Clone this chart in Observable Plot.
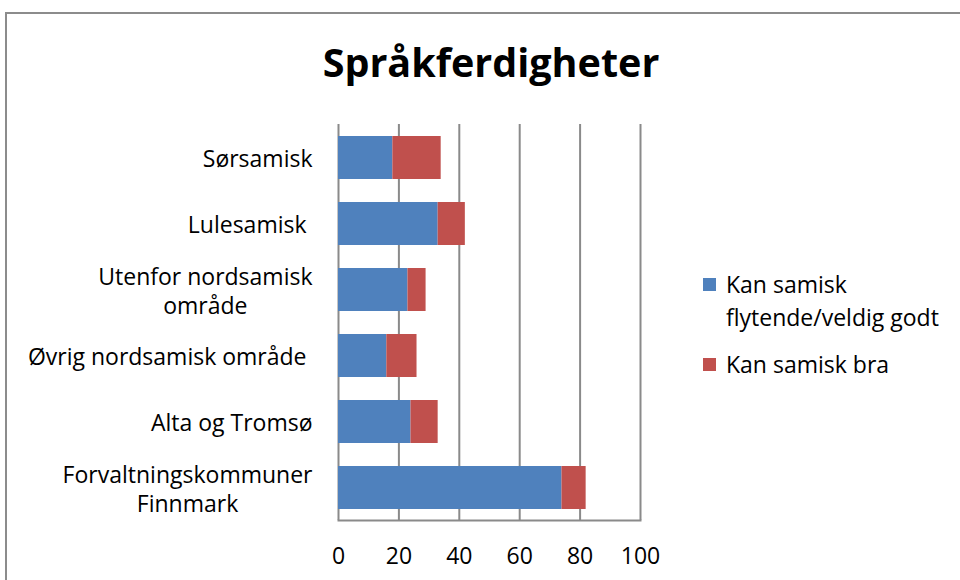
<!DOCTYPE html>
<html>
<head>
<meta charset="utf-8">
<script src="https://cdn.jsdelivr.net/npm/d3@7"></script>
<script src="https://cdn.jsdelivr.net/npm/@observablehq/plot@0.6"></script>
<style>
  html, body { margin: 0; padding: 0; background: #fff; }
  #wrap { position: relative; width: 960px; height: 580px; overflow: hidden; font-family: "Open Sans", Lato, sans-serif; }
  #frame { position: absolute; left: 5px; top: 12px; width: 1000px; height: 700px; border-left: 2px solid #8c8c8c; border-top: 2px solid #8c8c8c; box-sizing: border-box; }
  #title { position: absolute; left: 0; top: 35px; width: 982px; text-align: center; font-weight: bold; font-size: 39.5px; color: #000; }
  #legend { position: absolute; left: 703px; top: 268px; font-size: 23px; color: #000; line-height: 33px; }
  .item { position: relative; padding-left: 23px; }
  .sw { position: absolute; left: 0; top: 10px; width: 13px; height: 13px; }
  #chart { position: absolute; left: 0; top: 0; }
</style>
</head>
<body>
<div id="wrap">
  <div id="frame"></div>
  <div id="chart"></div>
  <div id="title"></div>
  <div id="legend"></div>
</div>
<script>
const title = "Språkferdigheter";
const categories = [
  "Sørsamisk",
  "Lulesamisk ",
  "Utenfor nordsamisk\nområde",
  "Øvrig nordsamisk område ",
  "Alta og Tromsø",
  "Forvaltningskommuner\nFinnmark"
];
const seriesNames = ["Kan samisk flytende/veldig godt", "Kan samisk bra"];
const seriesLegendLines = [["Kan samisk", "flytende/veldig godt"], ["Kan samisk bra"]];
const flytende = [18, 33, 23, 16, 24, 74];
const bra = [16, 9, 6, 10, 9, 8];
const xTicks = [0, 20, 40, 60, 80, 100];
const colors = ["#4F81BD", "#C0504D"];

const data = [];
categories.forEach((c, i) => {
  data.push({cat: c, series: seriesNames[0], value: flytende[i]});
  data.push({cat: c, series: seriesNames[1], value: bra[i]});
});

const fontFamily = "'Open Sans', Lato, sans-serif";
const fontSize = 23;
const ctx = document.createElement("canvas").getContext("2d");
ctx.font = `${fontSize}px ${fontFamily}`;
function blockWidth(s) { return Math.max(...s.split("\n").map(l => ctx.measureText(l).width)); }

const yAxes = categories.map(c => Plot.axisY([c], {
  tickSize: 0, tickPadding: 26, textAnchor: "middle", dx: -blockWidth(c) / 2,
  fontSize: fontSize, lineHeight: 1.26, label: null
}));

const chart = Plot.plot({
  width: 960,
  height: 580,
  marginLeft: 338,
  marginRight: 320,
  marginTop: 124,
  marginBottom: 60,
  style: {fontFamily: fontFamily, fontSize: fontSize + "px", color: "#000", background: "transparent"},
  x: {domain: [0, 100], ticks: xTicks, label: null},
  y: {domain: categories, paddingInner: 0.35, paddingOuter: 0.175, label: null},
  color: {domain: seriesNames, range: colors},
  marks: [
    Plot.gridX(xTicks, {stroke: "#8a8a8a", strokeOpacity: 1, strokeWidth: 2}),
    Plot.barX(data, Plot.stackX({y: "cat", x: "value", fill: "series", order: seriesNames})),
    Plot.axisX(xTicks, {tickSize: 0, tickPadding: 27, fontSize: fontSize, label: null}),
    Plot.frame({anchor: "bottom", stroke: "#8a8a8a", strokeWidth: 2}),
    ...yAxes
  ]
});
document.getElementById("chart").appendChild(chart);
document.getElementById("title").textContent = title;

const legend = document.getElementById("legend");
seriesLegendLines.forEach((lines, i) => {
  const item = document.createElement("div");
  item.className = "item";
  item.style.marginBottom = i === 0 ? "14px" : "0";
  const sw = document.createElement("div");
  sw.className = "sw";
  sw.style.background = colors[i];
  item.appendChild(sw);
  lines.forEach(l => { const d = document.createElement("div"); d.textContent = l; item.appendChild(d); });
  legend.appendChild(item);
});
</script>
</body>
</html>
